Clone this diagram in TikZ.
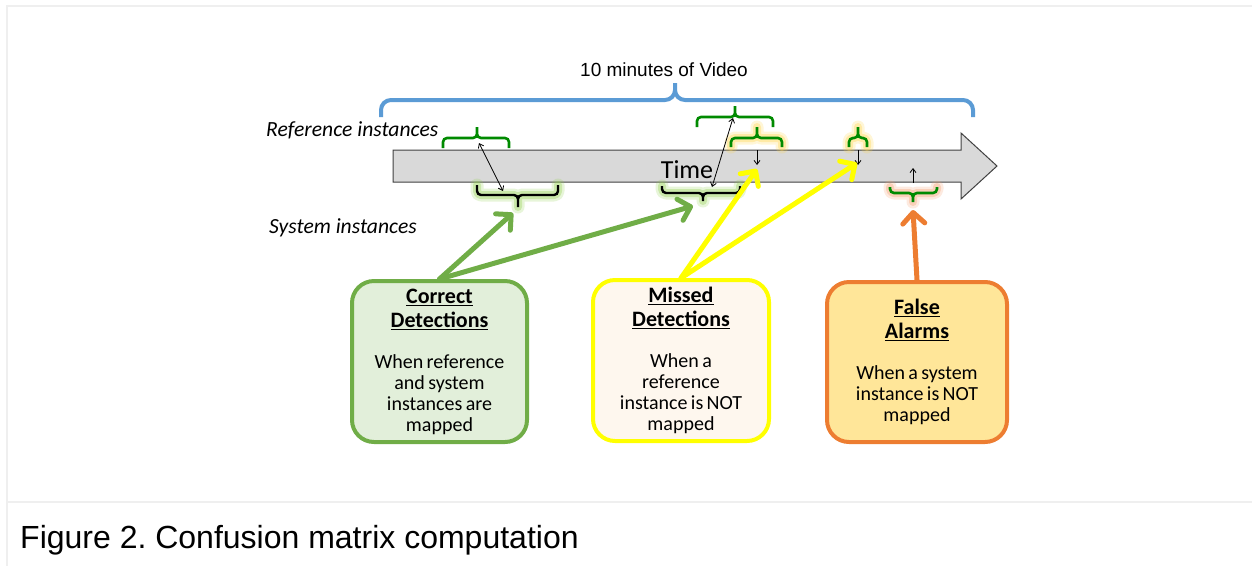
\documentclass[tikz,border=0pt]{standalone}
\usepackage{fontspec}
\setmainfont{Liberation Sans}
\newfontfamily\carl{Carlito}
\usetikzlibrary{arrows.meta}
\frenchspacing
\definecolor{bluebr}{HTML}{5B9BD5}
\definecolor{cgreen}{HTML}{70AD47}
\definecolor{dgreen}{HTML}{008A00}
\definecolor{cyellow}{HTML}{FFFF00}
\definecolor{corange}{HTML}{ED7D31}
\definecolor{cfill}{HTML}{E2EFDA}
\definecolor{mfill}{HTML}{FEF7EE}
\definecolor{ffill}{HTML}{FFE699}
\definecolor{barfill}{HTML}{D9D9D9}
\definecolor{framegray}{HTML}{EFEFEF}
\definecolor{gglow}{HTML}{92D050}
\definecolor{yglow}{HTML}{FFD54A}
\definecolor{oglow}{HTML}{F4A070}
\newcommand\curly[7]{\draw[#1] (#2,#5) -- (#2,#6) -- (#3,#6) -- (#3,#7) (#4,#5) -- (#4,#6) -- (#3,#6) -- (#3,#7);}
\newcommand\glowbrace[8]{%
  \curly{glowA=#1}{#2}{#3}{#4}{#5}{#6}{#7}%
  \curly{glowB=#1}{#2}{#3}{#4}{#5}{#6}{#7}%
  \curly{#8}{#2}{#3}{#4}{#5}{#6}{#7}}
\newcommand\uln[1]{\leavevmode\vtop{\hbox{#1}\kern1.3pt\hrule height 1.4pt}}
\newcommand\boxtext[2]{{\fontsize{22}{24}\selectfont\bfseries #1\par}\vspace{20pt}{\fontsize{20}{21}\selectfont #2\par}}
\begin{document}
\begin{tikzpicture}[x=1pt,y=-1pt,
  bluebrace/.style={draw=bluebr,line width=4,rounded corners=10},
  refbrace/.style={draw=dgreen,line width=2.6,rounded corners=4},
  sysbrace/.style={draw=black,line width=2.4,rounded corners=4},
  glowA/.style={draw=#1,line width=13,opacity=0.22,line cap=round,line join=round,rounded corners=4},
  glowB/.style={draw=#1,line width=8,opacity=0.35,line cap=round,line join=round,rounded corners=4},
  infobox/.style={rounded corners=22,line width=4,text width=168,align=center,inner sep=0,font=\carl,minimum height=161},
  fat/.style={line width=5,line cap=round,-{Straight Barb[length=11pt,width=22pt,line cap=round,line join=round]}},
  thin/.style={line width=0.8,{Straight Barb[length=4pt,width=6pt]}-{Straight Barb[length=4pt,width=6pt]}},
  thinr/.style={line width=0.8,-{Straight Barb[length=4pt,width=6pt]}}
]
\useasboundingbox (0,0) rectangle (1252,566);
% frame
\draw[framegray,line width=2] (1252,6) -- (7,6) -- (7,566);
\draw[framegray,line width=2] (7,502) -- (1252,502);
% caption
\node[anchor=base west,inner sep=0] (cap) at (20,548) {\fontsize{32}{38}\selectfont Figure 2. Confusion matrix computation};
% top label and brace
\node[anchor=base,inner sep=0] (vid) at (664,76) {\fontsize{19}{23}\selectfont 10 minutes of Video};
\curly{bluebrace}{381}{675}{973}{117}{100}{83}
% labels
\node[anchor=base west,inner sep=0] (reflab) at (266,136) {\carl\itshape\fontsize{21.6}{25}\selectfont Reference instances};
\node[anchor=base west,inner sep=0] (syslab) at (269,233) {\carl\itshape\fontsize{21.6}{25}\selectfont System instances};
% time arrow
\draw[fill=barfill,draw=black!75,line width=1] (393,150) -- (961,150) -- (961,133) -- (997,166) -- (961,199) -- (961,182) -- (393,182) -- cycle;
\node[anchor=base,inner sep=0] (time) at (687,178) {\carl\fontsize{26}{30}\selectfont Time};
% reference braces
\curly{refbrace}{443}{477}{509}{148}{138}{127}
\curly{refbrace}{697}{735}{773}{127}{117}{106}
\glowbrace{yglow}{731}{757}{782}{147}{138}{127}{refbrace}
\glowbrace{yglow}{849}{858}{867}{147}{138}{127}{refbrace}
% system braces
\glowbrace{gglow}{477}{518}{558}{185}{195}{207}{sysbrace}
\glowbrace{gglow}{662}{703}{740}{186}{193}{201}{sysbrace}
\glowbrace{oglow}{890}{913}{937}{187}{193}{202}{refbrace}
% thin arrows
\coordinate (d1a) at (479,143); \coordinate (d1b) at (503,191);
\coordinate (d2a) at (712,187); \coordinate (d2b) at (733,118);
\coordinate (m1a) at (757,150); \coordinate (m1b) at (757,165);
\coordinate (m2a) at (858,150); \coordinate (m2b) at (858,165);
\coordinate (f1a) at (913,183); \coordinate (f1b) at (913,168);
\draw[thin] (d1a) -- (d1b);
\draw[thin] (d2a) -- (d2b);
\draw[thinr] (m1a) -- (m1b);
\draw[thinr] (m2a) -- (m2b);
\draw[thinr] (f1a) -- (f1b);
% boxes
\node[infobox,draw=cgreen,fill=cfill,minimum width=175] (cd) at (439.5,361.5)
  {\boxtext{\uln{Correct}\par\uln{Detections}}{When reference\par and system\par instances are\par mapped}};
\node[infobox,draw=cyellow,fill=mfill,minimum width=176] (md) at (681,360.5)
  {\boxtext{\uln{Missed}\par\uln{Detections}}{When a\par reference\par instance is NOT\par mapped}};
\node[infobox,draw=corange,fill=ffill,minimum width=180,minimum height=160] (fa) at (917,362)
  {\boxtext{\uln{False}\par\uln{Alarms}}{When a system\par instance is NOT\par mapped}};
% big arrows
\coordinate (g1) at (513,213);
\coordinate (g2) at (693,206);
\coordinate (y1) at (757,169);
\coordinate (y2) at (857,163);
\coordinate (o1) at (913,210);
\draw[fat,cgreen] (cd.north) -- (g1);
\draw[fat,cgreen] (cd.north) -- (g2);
\draw[fat,cyellow] (md.north) -- (y1);
\draw[fat,cyellow] (md.north) -- (y2);
\draw[fat,corange] (fa.north) -- (o1);
\end{tikzpicture}
\end{document}
